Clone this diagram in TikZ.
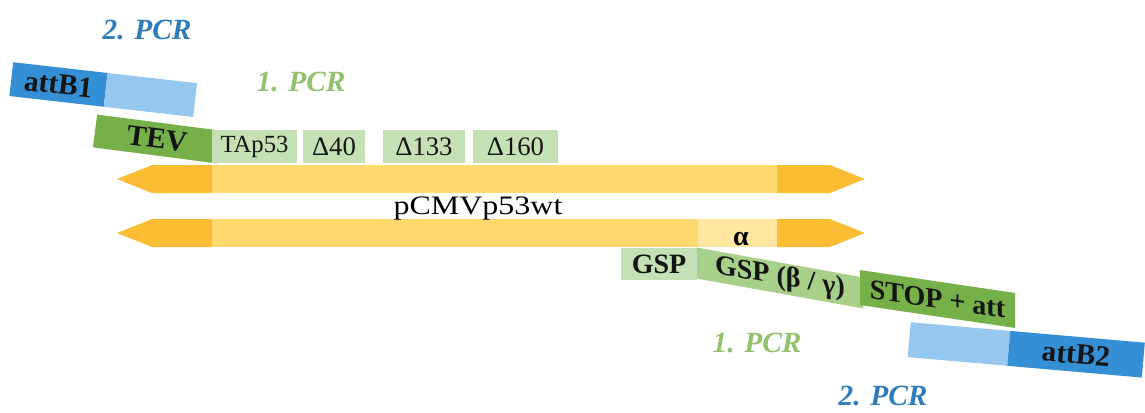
\documentclass[tikz,border=0pt]{standalone}
\usepackage{fontspec}
\setmainfont{Liberation Serif}
\usepackage{tikz}
\usetikzlibrary{positioning}
\usepackage{xcolor}

\tikzset{
  seg/.style={inner sep=0pt, outer sep=0pt, text={rgb, 255:red, 20; green, 20; blue, 20}},
  labfont/.style={font=\bfseries\fontsize{21}{24}\selectfont},
  pcrfont/.style={font=\bfseries\itshape\fontsize{22}{26}\selectfont, inner sep=0pt},
  boxgreen/.style={seg, fill={rgb, 255:red, 197; green, 224; blue, 180}, minimum height=24.75pt},
  midgreen/.style={seg, fill={rgb, 255:red, 169; green, 208; blue, 139}},
  darkgreen/.style={seg, fill={rgb, 255:red, 118; green, 176; blue, 72}},
  lightblue/.style={seg, fill={rgb, 255:red, 150; green, 199; blue, 238}},
  darkblue/.style={seg, fill={rgb, 255:red, 52; green, 143; blue, 212}},
  bandlight/.style={fill={rgb, 255:red, 255; green, 217; blue, 110}},
  banddark/.style={fill={rgb, 255:red, 251; green, 189; blue, 52}},
  bandpale/.style={fill={rgb, 255:red, 255; green, 231; blue, 160}}
}

\begin{document}
\begin{tikzpicture}[x=0.75pt,y=0.75pt,yscale=-1,xscale=1]
\useasboundingbox (0,0) rectangle (1145,412);

%Shape: upper strand
\fill [banddark] (117,179) -- (152,165) -- (212,165) -- (212,193) -- (152,193) -- cycle ;
\fill [bandlight] (212,165) rectangle (777,193) ;
\fill [banddark] (777,165) -- (830,165) -- (865,179) -- (830,193) -- (777,193) -- cycle ;
%Shape: lower strand
\fill [banddark] (117,233) -- (152,219) -- (212,219) -- (212,247) -- (152,247) -- cycle ;
\fill [bandlight] (212,219) rectangle (698,247) ;
\fill [bandpale] (698,219) rectangle (777,247) ;
\fill [banddark] (777,219) -- (830,219) -- (865,233) -- (830,247) -- (777,247) -- cycle ;

%Text: plasmid and alpha
\node [inner sep=0pt, font=\fontsize{20}{22}\selectfont, xscale=1.2] (plasmid) at (478,209) {pCMVp53wt};
\node [inner sep=0pt, font=\bfseries\fontsize{21}{24}\selectfont] (alpha) at (741,239) {α};

%Shape: attB1 primer
\node [darkblue, font=\bfseries\fontsize{22}{24}\selectfont, rotate=-6.5, minimum width=71.25pt, minimum height=25.5pt] (attbone) at (58.5,84.5) {attB1};
\node [lightblue, rotate=-6.5, minimum width=67.5pt, minimum height=25.5pt, anchor=west] (attbonel) at (attbone.east) {};

%Shape: TEV
\node [darkgreen, font=\bfseries\fontsize{22}{24}\selectfont, rotate=-7.4, minimum width=93.75pt, minimum height=24.75pt] (tev) at (157,139) {TEV};

%Shape: N-terminal boxes
\node [boxgreen, font=\fontsize{18.5}{20}\selectfont, minimum width=63.75pt] (tap) at (254.5,146.5) {TAp53};
\node [boxgreen, font=\fontsize{20}{22}\selectfont, minimum width=46.5pt, right=4.5pt of tap] (dforty) {Δ40};
\node [boxgreen, font=\fontsize{20}{22}\selectfont, minimum width=61.5pt, right=13.5pt of dforty] (donethree) {Δ133};
\node [boxgreen, font=\fontsize{20}{22}\selectfont, minimum width=63.75pt, right=6pt of donethree] (donesix) {Δ160};

%Shape: C-terminal primer
\node [midgreen, labfont, yslant=-0.18, minimum width=124.5pt, minimum height=23.25pt] (gspbg) at (780,278) {GSP (β / γ)};
\node [boxgreen, labfont, minimum width=57pt, minimum height=24pt] (gsp) at (659,264) {GSP};
\node [darkgreen, labfont, yslant=-0.148, minimum width=116.25pt, minimum height=26.25pt] (stop) at (937.5,299) {STOP + att};

%Shape: attB2 primer
\node [lightblue, rotate=-5, minimum width=75pt, minimum height=26.25pt] (attbtwol) at (959,344) {};
\node [darkblue, font=\bfseries\fontsize{22}{24}\selectfont, rotate=-5, minimum width=101.25pt, minimum height=26.25pt, anchor=west] (attbtwo) at (attbtwol.east) {attB2};

%Text: PCR steps
\node [pcrfont, text={rgb, 255:red, 46; green, 125; blue, 185}] (pcrtwoa) at (147,30) {2. PCR};
\node [pcrfont, text={rgb, 255:red, 146; green, 193; blue, 108}] (pcronea) at (301,82) {1. PCR};
\node [pcrfont, text={rgb, 255:red, 146; green, 193; blue, 108}] (pcroneb) at (757,343) {1. PCR};
\node [pcrfont, text={rgb, 255:red, 46; green, 125; blue, 185}] (pcrtwob) at (883,396) {2. PCR};

\end{tikzpicture}
\end{document}
